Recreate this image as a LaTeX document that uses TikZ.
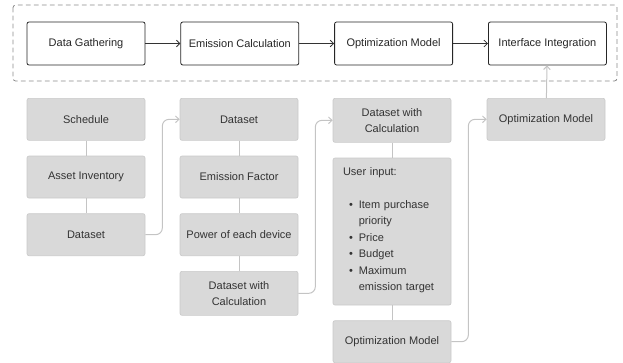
\documentclass[tikz,border=0pt]{standalone}
\usepackage{fontspec}
\setmainfont{Liberation Sans}
\usetikzlibrary{arrows.meta, positioning}

\definecolor{boxgray}{HTML}{D9D9D9}
\definecolor{edgegray}{HTML}{CACACA}
\definecolor{linkgray}{HTML}{C4C4C4}
\definecolor{inkgray}{HTML}{333333}
\definecolor{framegray}{HTML}{8C8C8C}

\begin{document}
\begin{tikzpicture}[
        x=0.75pt, y=-0.75pt,
        font=\fontsize{8.25}{12.3}\selectfont,
        node distance=11.25pt and 26.25pt,
        stage/.style={draw=black!85, fill=white, rounded corners=1.5pt, line width=0.6pt, minimum width=88.5pt, minimum height=32.25pt, align=center, text=black!85, inner sep=2pt},
        item/.style={draw=edgegray, fill=boxgray, rounded corners=1.5pt, line width=0.5pt, minimum width=88.5pt, minimum height=31.5pt, align=center, text=inkgray, inner sep=2pt},
        flow/.style={-{Straight Barb[length=2.6pt, width=5pt]}, line width=0.6pt, black!80},
        link/.style={draw=linkgray, line width=0.75pt, rounded corners=5pt},
        jump/.style={link, -{Straight Barb[length=2.6pt, width=5pt]}}
    ]
    \useasboundingbox (0,0) rectangle (623,362);

    % pipeline stages
    \draw[framegray, dashed, dash pattern=on 3.5pt off 2.5pt, rounded corners=2pt, line width=0.6pt] (13,5) rectangle (617,81);
    \node[stage] (gather) at (86,43.5) {Data Gathering};
    \node[stage, right=of gather] (calc) {Emission Calculation};
    \node[stage, right=of calc] (optim) {Optimization Model};
    \node[stage, right=of optim] (iface) {Interface Integration};
    \draw[flow] (gather) -- (calc);
    \draw[flow] (calc) -- (optim);
    \draw[flow] (optim) -- (iface);

    % gathering column
    \node[item, anchor=north] (sched) at (86,98) {Schedule};
    \node[item, below=of sched] (assets) {Asset Inventory};
    \node[item, below=of assets] (data1) {Dataset};

    % calculation column
    \node[item, anchor=north] (data2) at (239,98) {Dataset};
    \node[item, below=of data2] (factor) {Emission Factor};
    \node[item, below=of factor] (power) {Power of each device};
    \node[item, below=of power, minimum height=33pt] (wcalc) {Dataset with\\Calculation};

    % optimization column
    \node[item, anchor=north, minimum height=33pt] (dwc3) at (392,98) {Dataset with\\Calculation};
    \node[item, below=of dwc3, minimum height=110.25pt, text width=73.5pt, align=left] (input) {User input:\\[12.3pt]
        \begin{tabular}[t]{@{\hspace{4.5pt}}l@{\hspace{4.5pt}}l@{}}
            \textbullet & Item purchase\\
                        & priority\\
            \textbullet & Price\\
            \textbullet & Budget\\
            \textbullet & Maximum\\
                        & emission target
        \end{tabular}};
    \node[item, below=of input] (opt3) {Optimization Model};

    % interface column
    \node[item, anchor=north] (opt4) at (546,98) {Optimization Model};

    % links inside columns
    \draw[link] (sched) -- (assets);
    \draw[link] (assets) -- (data1);
    \draw[link] (data2) -- (factor);
    \draw[link] (factor) -- (power);
    \draw[link] (power) -- (wcalc);
    \draw[link] (dwc3) -- (input);
    \draw[link] (input) -- (opt3);

    % hand-over between columns
    \draw[jump] (data1.east) -- ++(17,0) |- (data2.west);
    \draw[jump] (wcalc.east) -- ++(17,0) |- (dwc3.west);
    \draw[jump] (opt3.east) -- ++(17,0) |- (opt4.west);
    \draw[jump] (opt4) -- (iface);
\end{tikzpicture}
\end{document}
